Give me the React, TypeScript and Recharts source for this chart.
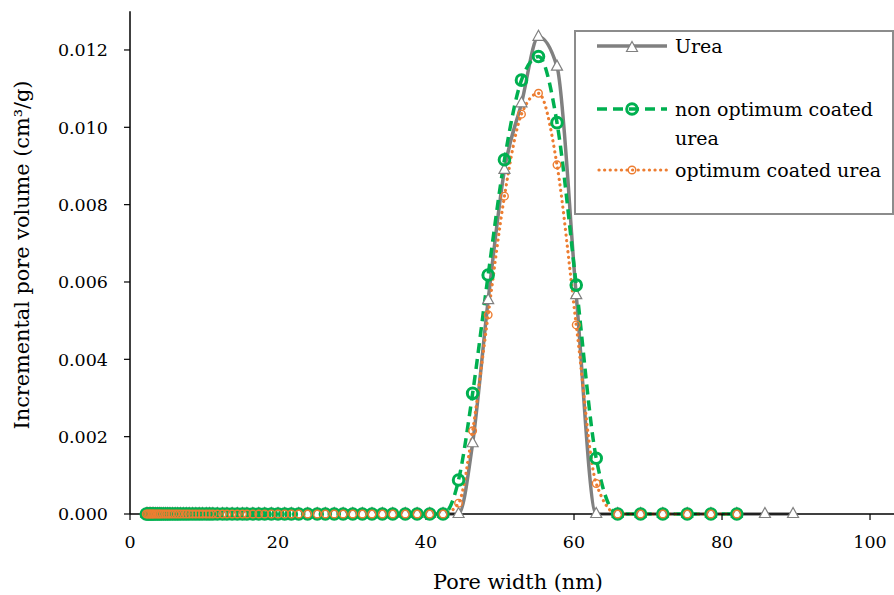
import React from 'react';
import { LineChart, Line, XAxis, YAxis, Legend, Label } from 'recharts';

// Pore widths (nm) where all three curves sit at zero
const zeroRegionWidths = [
  2.2, 2.4, 2.6, 2.8, 3.0, 3.2, 3.45, 3.7, 3.95, 4.2,
  4.5, 4.8, 5.1, 5.4, 5.75, 6.1, 6.45, 6.8, 7.2, 7.6,
  8.0, 8.45, 8.9, 9.35, 9.8, 10.3, 10.75, 11.2, 11.8, 12.5,
  13.1, 13.8, 14.5, 15.2, 15.8, 16.6, 17.4, 18.2, 19.1, 20.0,
  20.9, 21.8, 22.8, 24.0, 25.3, 26.4, 27.6, 28.8, 30.1, 31.4,
  32.7, 34.1, 35.5, 37.2, 38.8, 40.5, 42.3,
];
const zeroRegionVolume = 0;

// Pore widths (nm) around and after the peak
const peakWidths = [44.4, 46.3, 48.4, 50.6, 52.9, 55.2, 57.7, 60.3, 63.0, 65.9, 69.0, 72.0, 75.3, 78.5, 82.0, 85.8, 89.6];
const ureaPeak = [0, 0.00183, 0.00553, 0.0089, 0.01062, 0.01234, 0.01157, 0.00566, 0, 0, 0, 0, 0, 0, 0, 0, 0];
const nonOptimumPeak = [0.00088, 0.00312, 0.00618, 0.00916, 0.01122, 0.01183, 0.01012, 0.00592, 0.00144, 0, 0, 0, 0, 0, 0, null, null];
const optimumPeak = [0.00028, 0.00215, 0.00515, 0.00822, 0.01034, 0.01088, 0.00903, 0.00489, 0.00079, 0, 0, 0, 0, 0, 0, null, null];

const xTicks = [0, 20, 40, 60, 80, 100];
const yTicks = [0, 0.002, 0.004, 0.006, 0.008, 0.01, 0.012];

const seriesNames = ['Urea', 'non optimum coated urea', 'optimum coated urea'];

const data = [
  ...zeroRegionWidths.map((w) => ({ width: w, urea: zeroRegionVolume, nonOpt: zeroRegionVolume, opt: zeroRegionVolume })),
  ...peakWidths.map((w, i) => ({ width: w, urea: ureaPeak[i], nonOpt: nonOptimumPeak[i], opt: optimumPeak[i] })),
];

const FONT = '"DejaVu Serif", serif';
const GRAY = '#808080';
const GREEN = '#00B050';
const ORANGE = '#ED7D31';

const triPath = (cx: number, cy: number) =>
  `M${cx},${cy - 6.5} L${cx + 5.5},${cy + 3.5} L${cx - 5.5},${cy + 3.5} Z`;

const TriangleDot = (props: any) => {
  const { cx, cy, index } = props;
  if (cx == null || cy == null || isNaN(cy)) return <g key={`t-${index}`} />;
  return <path key={`t-${index}`} d={triPath(cx, cy)} fill="#fff" stroke={GRAY} strokeWidth={1.2} />;
};

const GreenDot = (props: any) => {
  const { cx, cy, index } = props;
  if (cx == null || cy == null || isNaN(cy)) return <g key={`g-${index}`} />;
  return <circle key={`g-${index}`} cx={cx} cy={cy} r={5.3} fill="none" stroke={GREEN} strokeWidth={3} />;
};

const OrangeDot = (props: any) => {
  const { cx, cy, index } = props;
  if (cx == null || cy == null || isNaN(cy)) return <g key={`o-${index}`} />;
  return <circle key={`o-${index}`} cx={cx} cy={cy} r={3.8} fill="none" stroke={ORANGE} strokeWidth={1.4} />;
};

const LegendBox = () => {
  const textStyle: React.CSSProperties = {
    position: 'absolute',
    left: 99,
    fontFamily: FONT,
    fontSize: 19,
    color: '#000',
    whiteSpace: 'nowrap',
    lineHeight: '29px',
  };
  return (
    <div
      style={{
        position: 'relative',
        width: 320,
        height: 185,
        boxSizing: 'border-box',
        border: '2px solid #8c8c8c',
        background: '#fff',
      }}
    >
      <svg width={320} height={185} style={{ position: 'absolute', left: -2, top: -2 }}>
        <line x1={23} y1={16} x2={93} y2={16} stroke={GRAY} strokeWidth={3.5} />
        <path d={triPath(58, 18)} fill="#fff" stroke={GRAY} strokeWidth={1.2} />
        <line x1={23} y1={79} x2={93} y2={79} stroke={GREEN} strokeWidth={3.5} strokeDasharray="10 6" />
        <circle cx={58} cy={79} r={5.3} fill="none" stroke={GREEN} strokeWidth={3} />
        <line x1={25} y1={140} x2={93} y2={140} stroke={ORANGE} strokeWidth={3.2} strokeDasharray="0.1 5.5" strokeLinecap="round" />
        <circle cx={58} cy={140} r={3.8} fill="none" stroke={ORANGE} strokeWidth={1.4} />
      </svg>
      <div style={{ ...textStyle, top: 16 - 2 - 14.5 }}>{seriesNames[0]}</div>
      <div style={{ ...textStyle, top: 79 - 2 - 14.5 }}>
        non optimum coated
        <br />
        urea
      </div>
      <div style={{ ...textStyle, top: 140 - 2 - 14.5 }}>{seriesNames[2]}</div>
    </div>
  );
};

export default function App() {
  return (
    <div style={{ position: 'absolute', left: 0, top: 0, width: 894, height: 595, background: '#fff' }}>
      <LineChart width={894} height={595} data={data} margin={{ top: 11.3, right: 0, bottom: 0, left: 0 }}>
        <XAxis
          dataKey="width"
          type="number"
          domain={[0, 103.24]}
          ticks={xTicks}
          height={81}
          axisLine={{ stroke: '#000', strokeWidth: 1.5 }}
          tickLine={{ stroke: '#000', strokeWidth: 1.2 }}
          tickSize={6}
          tickMargin={16}
          tick={{ fill: '#000', fontSize: 17.5, fontFamily: FONT }}
        >
          <Label
            content={() => (
              <text x={518} y={589} textAnchor="middle" fontFamily={FONT} fontSize={20.8} fill="#000">
                Pore width (nm)
              </text>
            )}
          />
        </XAxis>
        <YAxis
          type="number"
          domain={[0, 0.013]}
          ticks={yTicks}
          width={130}
          tickFormatter={(v: number) => v.toFixed(3)}
          axisLine={{ stroke: '#000', strokeWidth: 1.5 }}
          tickLine={{ stroke: '#000', strokeWidth: 1.2 }}
          tickSize={6}
          tickMargin={16}
          tick={{ fill: '#000', fontSize: 17.5, fontFamily: FONT }}
        >
          <Label
            content={() => (
              <text
                x={29}
                y={255}
                transform="rotate(-90, 29, 255)"
                textAnchor="middle"
                fontFamily={FONT}
                fontSize={20.8}
                fill="#000"
              >
                Incremental pore volume (cm³/g)
              </text>
            )}
          />
        </YAxis>
        <Line
          type="monotone"
          dataKey="urea"
          name={seriesNames[0]}
          stroke={GRAY}
          strokeWidth={3.5}
          dot={TriangleDot}
          activeDot={false}
          isAnimationActive={false}
        />
        <Line
          type="monotone"
          dataKey="nonOpt"
          name={seriesNames[1]}
          stroke={GREEN}
          strokeWidth={3.5}
          strokeDasharray="10 6"
          dot={GreenDot}
          activeDot={false}
          isAnimationActive={false}
        />
        <Line
          type="monotone"
          dataKey="opt"
          name={seriesNames[2]}
          stroke={ORANGE}
          strokeWidth={3.2}
          strokeDasharray="0.1 5.5"
          strokeLinecap="round"
          dot={OrangeDot}
          activeDot={false}
          isAnimationActive={false}
        />
        <Legend
          layout="vertical"
          align="center"
          verticalAlign="middle"
          content={() => <LegendBox />}
          wrapperStyle={{ position: 'absolute', left: 574, top: 30, width: 320, height: 185, margin: 0 }}
        />
      </LineChart>
    </div>
  );
}
